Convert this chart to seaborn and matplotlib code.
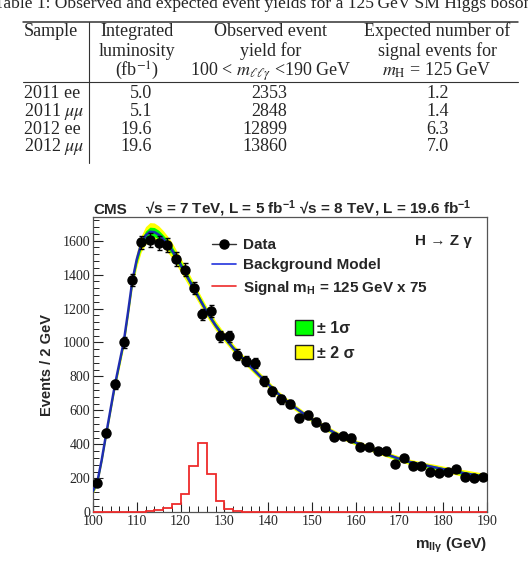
import numpy as np
import pandas as pd
import matplotlib.pyplot as plt
import seaborn as sns
from matplotlib.lines import Line2D
from matplotlib.patches import Patch

# Table values
samples = ["2011 ee", r"2011 $\mu\mu$", "2012 ee", r"2012 $\mu\mu$"]
lumi = [5.0, 5.1, 19.6, 19.6]
observed = [2353, 2848, 12899, 13860]
expected = [1.2, 1.4, 6.3, 7.0]

# Observed events in 2 GeV bins (bin centres)
mass = np.arange(101, 190, 2)
events = [175, 467, 753, 1002, 1369, 1590, 1605, 1586, 1575, 1492,
          1428, 1319, 1166, 1186, 1037, 1037, 929, 890, 880, 773,
          714, 665, 637, 553, 573, 533, 504, 445, 449, 439,
          386, 386, 361, 363, 284, 318, 275, 273, 239, 229,
          235, 253, 206, 200, 210]

# Signal (x 75) per 2 GeV bin, same centres
signal = [0, 0, 0, 0, 0, 4, 8, 15, 28, 50,
          107, 272, 406, 225, 68, 21, 10, 4, 0, 0,
          0, 0, 0, 0, 0, 0, 0, 0, 0, 0,
          0, 0, 0, 0, 0, 0, 0, 0, 0, 0,
          0, 0, 0, 0, 0]

bkg_x = [100, 101, 102, 103, 104, 105, 106, 107, 108, 109, 110, 111, 112, 113,
         114, 115, 116, 117, 118, 119, 120, 122, 124, 126, 128, 130, 132, 134,
         136, 138, 140, 142, 144, 146, 148, 150, 152, 154, 156, 158, 160, 162,
         164, 166, 168, 170, 172, 174, 176, 178, 180, 182, 184, 186, 188, 190]
bkg_y = [125, 180, 310, 460, 605, 750, 875, 1000, 1178, 1365, 1490, 1580, 1630, 1652,
         1650, 1635, 1610, 1580, 1545, 1502, 1458, 1365, 1272, 1180, 1100, 1031, 968, 912,
         858, 806, 755, 705, 660, 620, 583, 548, 516, 485, 457, 433, 411, 390,
         370, 351, 333, 315, 299, 287, 276, 265, 254, 244, 234, 225, 216, 208]
bkg_sig = [8, 9, 10, 11, 12, 14, 15, 16, 18, 20, 22, 24, 26, 27,
           27, 26, 25, 24, 23, 22, 21, 19, 17, 15, 14, 13, 12, 11,
           11, 10, 10, 9, 9, 9, 8, 8, 8, 8, 8, 8, 8, 8,
           8, 8, 8, 8, 8, 8, 8, 9, 9, 9, 10, 10, 10, 11]

W, H = 528, 562

def fx(p):
    return p / W

def fy(p):
    return 1 - p / H

sns.set_style("ticks")
plt.rcParams['font.family'] = ['Liberation Sans', 'DejaVu Sans']
plt.rcParams['mathtext.fontset'] = 'custom'
plt.rcParams['mathtext.rm'] = 'Liberation Sans:bold'
plt.rcParams['mathtext.bf'] = 'Liberation Sans:bold'
plt.rcParams['mathtext.it'] = 'Liberation Sans:bold'

fig = plt.figure(figsize=(W / 100, H / 100), dpi=100)

# ---- table ----
serif = ['Liberation Serif', 'DejaVu Serif']
tfs = 13
fig.text(fx(265), fy(7.5), "Table 1: Observed and expected event yields for a 125\u2009GeV SM Higgs boson.",
         ha='center', va='baseline', family=serif, fontsize=12.6)

def tline(x0, y0, x1, y1, lw):
    fig.add_artist(Line2D([fx(x0), fx(x1)], [fy(y0), fy(y1)], color='#333333', lw=lw,
                          transform=fig.transFigure))

tline(23, 22, 518, 22, 1.1)
tline(23, 82, 518, 82, 0.8)
tline(89, 22, 89, 163, 0.8)

headers = [
    (24, 'left', ["Sample"]),
    (137, 'center', ["Integrated", "luminosity", r"(fb$^{-1}$)"]),
    (271, 'center', ["Observed event", "yield for", r"100 < $m_{\ell\ell\gamma}$ <190 GeV"]),
    (437, 'center', ["Expected number of", "signal events for", r"$m_{\mathrm{H}}$ = 125 GeV"]),
]
for x, ha, lines in headers:
    for i, s in enumerate(lines):
        t = fig.text(fx(x), fy(36 + 20 * i), s, ha=ha, va='baseline', family=serif, fontsize=tfs)
        t.set_math_fontfamily('stix')

row_y = [98.5, 116, 133.5, 151]
for i in range(len(samples)):
    y = fy(row_y[i])
    kw = dict(va='baseline', family=serif, fontsize=tfs)
    fig.text(fx(24), y, samples[i], ha='left', math_fontfamily='stix', **kw)
    fig.text(fx(152), y, f"{lumi[i]:.1f}", ha='right', **kw)
    fig.text(fx(287), y, f"{observed[i]}", ha='right', **kw)
    fig.text(fx(437.5), y, f"{expected[i]:.1f}", ha='center', **kw)

# ---- plot ----
ax = fig.add_axes([fx(93), fy(512.3), (487 - 93) / W, (512.3 - 217) / H])

by = np.array(bkg_y, dtype=float)
bs = np.array(bkg_sig, dtype=float)
ax.fill_between(bkg_x, by - 2 * bs, by + 2 * bs, color='#ffff00', lw=0, zorder=1)
ax.fill_between(bkg_x, by - bs, by + bs, color='#00ff00', lw=0, zorder=2)
sns.lineplot(x=bkg_x, y=bkg_y, color='#1f2db0', lw=1.8, ax=ax, zorder=3)

# signal histogram (edges from the 2 GeV bin centres)
edges = np.append(mass - 1, mass[-1] + 1)
ax.stairs(signal, edges, color='#ee2b2b', lw=1.3, baseline=0, zorder=4, clip_on=False)

df = pd.DataFrame({'mass': mass, 'events': events})
ax.errorbar(df['mass'], df['events'], yerr=np.sqrt(df['events']), fmt='o', color='black',
            ms=6.5, elinewidth=1, capsize=1.8, capthick=1, zorder=5)

ax.set_xlim(100, 190)
ax.set_ylim(0, 1739)
ax.set_xticks(np.arange(100, 191, 10))
ax.set_xticks(np.arange(100, 191, 2), minor=True)
ax.set_yticks(np.arange(0, 1601, 200))
ax.set_yticks(np.arange(0, 1740, 40), minor=True)
ax.tick_params(which='both', direction='in', top=False, right=False, color='#222222')
ax.tick_params(which='major', length=7, width=0.8, labelsize=10, pad=2)
ax.tick_params(which='minor', length=4, width=0.7)
for lab in ax.get_xticklabels() + ax.get_yticklabels():
    lab.set_family(serif)
for sp in ax.spines.values():
    sp.set_color('#555555')
    sp.set_linewidth(0.9)

ax.set_ylabel("Events / 2 GeV", fontsize=10.5, fontweight='bold', va='center')
ax.yaxis.set_label_coords(-0.117, 0.5)
ax.set_xlabel(r"m$_{\mathbf{ll\gamma}}$ (GeV)", fontsize=11, fontweight='bold', ha='right', va='center')
ax.xaxis.set_label_coords(1.0, -0.112)

# legends
h1 = [Line2D([], [], color='#333333', lw=1, marker='o', ms=6.5, mfc='black', mec='black'),
      Line2D([], [], color='#2233dd', lw=1.2),
      Line2D([], [], color='#ee2b2b', lw=1.2)]
l1 = ["Data", "Background Model", r"Signal m$_{\mathbf{H}}$ = 125 GeV x 75"]
leg1 = ax.legend(h1, l1, loc='upper left', bbox_to_anchor=(fx(212), fy(238)),
                 bbox_transform=fig.transFigure, frameon=False, borderpad=0, borderaxespad=0,
                 handlelength=1.6, handletextpad=0.4, labelspacing=0.42,
                 prop={'weight': 'bold', 'size': 11})
ax.add_artist(leg1)

h2 = [Patch(facecolor='#00ff00', edgecolor='#222222', lw=1),
      Patch(facecolor='#ffff00', edgecolor='#222222', lw=1)]
ax.legend(h2, ["\u00b1 1\u03c3", "\u00b1 2 \u03c3"], loc='upper left',
          bbox_to_anchor=(fx(295), fy(320)), bbox_transform=fig.transFigure,
          frameon=False, borderpad=0, borderaxespad=0, handlelength=1.1, handleheight=1.05,
          handletextpad=0.25, labelspacing=0.55, prop={'weight': 'bold', 'size': 11.5})

fig.text(fx(472), fy(245), "H \u2192 Z \u03b3", ha='right', va='baseline', fontsize=11, fontweight='bold')
fig.text(fx(93), fy(213.5), "CMS", ha='left', va='baseline', fontsize=11, fontweight='bold')
fig.text(fx(145), fy(213.5), "\u221as = 7 TeV, L = 5 fb$^{-1}$ \u221as = 8 TeV, L = 19.6 fb$^{-1}$",
         ha='left', va='baseline', fontsize=11, fontweight='bold')

fig.savefig("out.png", dpi=100)
